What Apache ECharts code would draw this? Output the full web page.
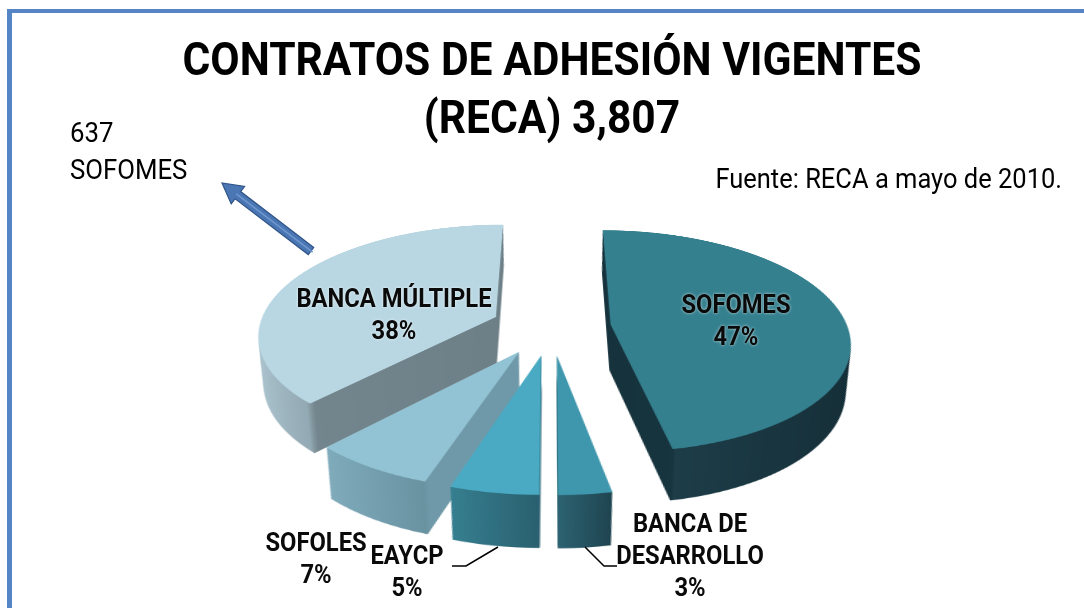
<!DOCTYPE html>
<html><head><meta charset="utf-8">
<script src="https://cdn.jsdelivr.net/npm/echarts@6/dist/echarts.min.js"></script>
<style>
html,body{margin:0;padding:0;overflow:hidden;background:#fff;width:1084px;height:608px}
#wrap{position:relative;width:1084px;height:608px;overflow:hidden;background:#fff}
#pie{position:absolute;left:0;width:1084px;height:700px;}
#over{position:absolute;left:0;top:0;width:1084px;height:608px}
</style></head><body>
<div id="wrap"><div id="pie"></div><div id="over"></div></div>
<script>
// ---- data ----
const categories = ['SOFOMES', 'BANCA DE DESARROLLO', 'EAYCP', 'SOFOLES', 'BANCA MÚLTIPLE'];
const values = [47, 3, 5, 7, 38];
const titleLines = ['CONTRATOS DE ADHESIÓN VIGENTES', '(RECA) 3,807'];
const noteLines = ['637', 'SOFOMES'];
const sourceText = 'Fuente: RECA a mayo de 2010.';

// ---- styling / view geometry ----
const FONT = 'Roboto, "Noto Sans", sans-serif';
const view = { cx: 551, cy: 326.5, R: 237, tilt: 62.6, persp: 1403, explode: 60, depth: 53, step: 1, ox: 551, oy: 290 };
const topColors = ['#35808f', '#3f97ad', '#4aaac3', '#92c3d4', '#b9d7e3'];
const sideStops = [
  [[0, '#16333d'], [0.19, '#17353f'], [0.2, '#1d3d48'], [1, '#152e37']],
  [[0, '#2d6372'], [1, '#1f4450']],
  [[0, '#367f90'], [1, '#2a606f']],
  [[0, '#7fabbb'], [0.54, '#6a93a2'], [0.56, '#6f99a8'], [1, '#6f99a8']],
  [[0, '#aec6d1'], [0.3, '#93aab4'], [0.33, '#74868d'], [1, '#6e8087']]
];
const labelAnchors = [[736, 323], [690, 558], [407, 574], [316, 561], [394, 317]];
const leaderLines = { 2: [[452, 566], [466, 566], [498, 547]], 1: [[585, 547], [604, 566], [617, 566]] };

const A = view.tilt * Math.PI / 180, cA = Math.cos(A), sA = Math.sin(A), P = view.persp;
const pieEl = document.getElementById('pie');
pieEl.style.top = (view.cy - view.oy) + 'px';
pieEl.style.transformOrigin = view.ox + 'px ' + view.oy + 'px';
pieEl.style.transform = 'perspective(' + P + 'px) rotateX(' + view.tilt + 'deg)';

function project(x, y, h) { const z = y * sA - h * cA; const sc = P / (P - z); return [x * sc, (y * cA + h * sA) * sc, sc]; }
function unproject(X, Y) { const y = Y * P / (cA * P + Y * sA); return [X * (P - y * sA) / P, y]; }

const total = values.reduce((a, b) => a + b, 0);
let acc = 0;
const mids = values.map(v => { const m = (acc + v / 2) / total * 2 * Math.PI; acc += v; return m; });

function grad(stops) {
  return new echarts.graphic.LinearGradient(0, 0, 1, 0, stops.map(s => ({ offset: s[0], color: s[1] })));
}

const series = [];
const nLayers = Math.round(view.depth / view.step);
for (let L = nLayers; L >= 0; L--) {
  const h = L * view.step;
  values.forEach((v, i) => {
    const ax = view.explode * Math.sin(mids[i]);
    const ay = -view.explode * Math.cos(mids[i]);
    const pr = project(ax, ay, h);
    const pl = unproject(pr[0], pr[1]);
    const r = view.R * pr[2] * (P - pl[1] * sA) / P;
    series.push({
      type: 'pie', silent: true, animation: false, startAngle: 90, clockwise: true,
      radius: [0, r], center: [view.ox + pl[0], view.oy + pl[1]], avoidLabelOverlap: false,
      label: { show: false }, labelLine: { show: false }, emphasis: { disabled: true },
      data: values.map((val, j) => ({
        name: categories[j], value: val,
        itemStyle: { borderWidth: 0, color: j === i ? (L === 0 ? topColors[i] : grad(sideStops[i])) : 'rgba(0,0,0,0)' }
      }))
    });
  });
}

const pieChart = echarts.init(pieEl, null, { renderer: 'canvas', devicePixelRatio: 2 });
pieChart.setOption({ animation: false, series: series });

// ---- overlay: texts, border, arrow, labels ----
const graphics = [];
graphics.push({ type: 'rect', shape: { x: 7, y: 9, width: 5, height: 610 }, style: { fill: '#5585c5' } });
graphics.push({ type: 'rect', shape: { x: 7, y: 9, width: 1090, height: 4 }, style: { fill: '#5585c5' } });
titleLines.forEach((t, i) => graphics.push({
  type: 'text', x: 552, y: 63 + i * 58, scaleX: 0.926,
  style: { text: t, font: 'bold 46px ' + FONT, fill: '#000', textAlign: 'center', textVerticalAlign: 'middle' }
}));
noteLines.forEach((t, i) => graphics.push({
  type: 'text', x: 70, y: 135 + i * 37, scaleX: 0.92,
  style: { text: t, font: '28px ' + FONT, fill: '#000', textAlign: 'left', textVerticalAlign: 'middle' }
}));
graphics.push({ type: 'text', x: 1062, y: 181, scaleX: 0.91, style: { text: sourceText, font: '28px ' + FONT, fill: '#000', textAlign: 'right', textVerticalAlign: 'middle' } });

// arrow (tail -> tip)
(function () {
  const tail = [311, 251], tip = [222, 183];
  const dx = tip[0] - tail[0], dy = tip[1] - tail[1];
  const len = Math.hypot(dx, dy), ux = dx / len, uy = dy / len, px = -uy, py = ux;
  const hw = 4.5, headL = 20, headW = 11;
  const bx = tip[0] - ux * headL, by = tip[1] - uy * headL;
  const pts = [
    [tail[0] + px * hw, tail[1] + py * hw], [bx + px * hw, by + py * hw], [bx + px * headW, by + py * headW],
    tip, [bx - px * headW, by - py * headW], [bx - px * hw, by - py * hw], [tail[0] - px * hw, tail[1] - py * hw]
  ];
  graphics.push({ type: 'polygon', shape: { points: pts }, style: { fill: '#4a76b3', stroke: '#2f5488', lineWidth: 1.2 } });
  graphics.push({ type: 'polyline', shape: { points: [[tail[0] - ux * 2, tail[1] - uy * 2], [bx + ux * 2, by + uy * 2]] }, style: { stroke: '#6e98cf', lineWidth: 1.5 } });
})();

// slice labels
values.forEach((v, i) => {
  const name = categories[i].replace('BANCA DE ', 'BANCA DE\n');
  graphics.push({
    type: 'text', x: labelAnchors[i][0], y: labelAnchors[i][1], scaleX: 0.95,
    style: {
      text: name + '\n' + v + '%', font: 'bold 25px ' + FONT, fill: '#0a0a0a', lineHeight: 32,
      textAlign: 'center', textVerticalAlign: 'middle',
      textShadowColor: 'rgba(255,255,255,0.7)', textShadowBlur: 3
    }
  });
  if (leaderLines[i]) graphics.push({ type: 'polyline', shape: { points: leaderLines[i] }, style: { stroke: '#000', lineWidth: 1.5, fill: null } });
});

const over = echarts.init(document.getElementById('over'), null, { renderer: 'canvas' });
over.setOption({ animation: false, graphic: graphics });
</script>
</body></html>
